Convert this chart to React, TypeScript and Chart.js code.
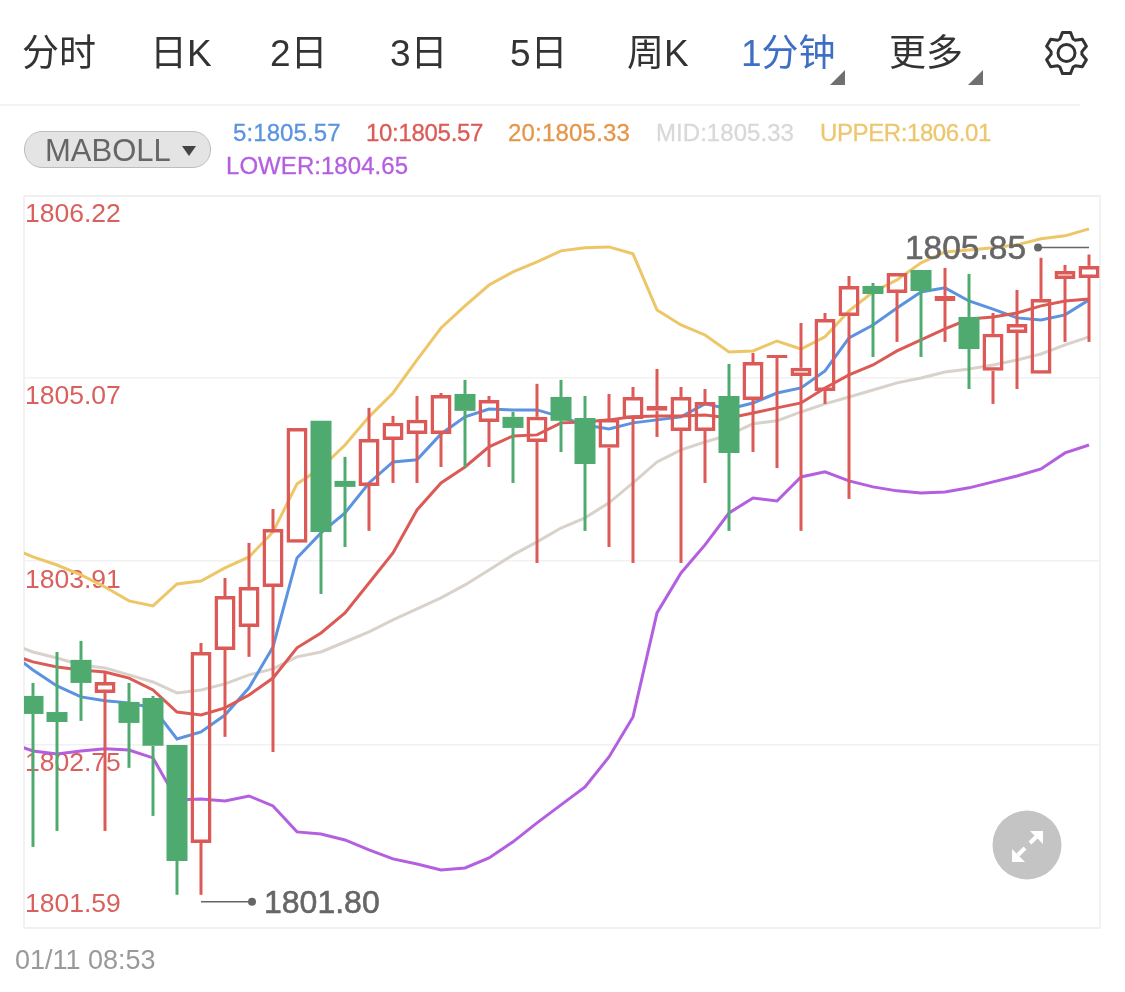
import React, { useEffect, useRef } from 'react';
import Chart from 'chart.js/auto';

const tabs = ['分时', '日K', '2日', '3日', '5日', '周K', '1分钟', '更多'];
const tabLeft = [22, 150, 270, 390, 510, 627, 741, 889];

const legendTexts = ['5:1805.57', '10:1805.57', '20:1805.33', 'MID:1805.33', 'UPPER:1806.01', 'LOWER:1804.65'];
const legendColors = ['#5b93de', '#dc5a56', '#e5964a', '#d8d8d8', '#edc66e', '#b45ee0'];
const legendLeft = [233, 366, 508, 656, 820, 226];
const legendTop = [133, 133, 133, 133, 133, 166];
const legendSpacing = [0.1, -0.3, 0.2, 0.05, -0.4, 0.05];

const tickValues = [1801.59, 1802.75, 1803.91, 1805.07, 1806.22];
const tickLabels = ['1801.59', '1802.75', '1803.91', '1805.07', '1806.22'];

const opens = [
  1803.058, 1802.956, 1803.286, 1803.077, 1803.02, 1803.045, 1802.748, 1802.128, 1803.349, 1803.494,
  1803.747, 1804.026, 1804.798, 1804.418, 1804.386, 1804.677, 1804.715, 1804.715, 1804.968, 1804.791,
  1804.823, 1804.664, 1804.949, 1804.816, 1804.627, 1804.81, 1804.861, 1804.734, 1804.734, 1804.955,
  1804.93, 1805.195, 1805.082, 1804.987, 1805.461, 1805.651, 1805.607, 1805.752, 1805.556, 1805.455,
  1805.114, 1805.354, 1805.095, 1805.695, 1805.702,
];
const closes = [
  1802.944, 1802.893, 1803.14, 1803.146, 1802.887, 1802.742, 1802.014, 1803.336, 1803.69, 1803.747,
  1804.114, 1804.753, 1804.095, 1804.38, 1804.683, 1804.785, 1804.804, 1804.961, 1804.861, 1804.93,
  1804.753, 1804.823, 1804.798, 1804.525, 1804.81, 1804.949, 1804.892, 1804.949, 1804.917, 1804.595,
  1805.17, 1805.214, 1805.133, 1805.442, 1805.651, 1805.6, 1805.733, 1805.619, 1805.588, 1805.252,
  1805.348, 1805.411, 1805.569, 1805.746, 1805.778,
];
const highs = [
  1803.14, 1803.336, 1803.406, 1803.209, 1803.14, 1803.058, 1802.748, 1803.393, 1803.804, 1804.026,
  1804.24, 1804.753, 1804.798, 1804.57, 1804.88, 1804.829, 1804.955, 1804.974, 1805.057, 1804.955,
  1804.854, 1805.032, 1805.057, 1804.955, 1804.968, 1805.012, 1805.126, 1805.012, 1804.999, 1805.158,
  1805.227, 1805.214, 1805.417, 1805.48, 1805.714, 1805.67, 1805.733, 1805.752, 1805.765, 1805.727,
  1805.48, 1805.626, 1805.829, 1805.784, 1805.85,
];
const lows = [
  1802.103, 1802.204, 1802.9, 1802.204, 1802.603, 1802.299, 1801.8, 1801.8, 1802.799, 1803.305,
  1802.703, 1804.026, 1803.703, 1804.0, 1804.102, 1804.405, 1804.405, 1804.506, 1804.506, 1804.506,
  1804.405, 1803.899, 1804.601, 1804.102, 1804.0, 1803.899, 1804.696, 1803.899, 1804.405, 1804.102,
  1804.601, 1804.499, 1804.102, 1804.905, 1804.304, 1805.202, 1805.297, 1805.202, 1805.297, 1804.999,
  1804.905, 1804.999, 1805.095, 1805.297, 1805.297,
];

// the lines carry one extra point in front, it sits left of the frame and gets clipped
const ma5 = [
  1803.336, 1803.222, 1803.121, 1803.052, 1803.027, 1803.014, 1802.982, 1802.786, 1802.83, 1802.937,
  1803.109, 1803.368, 1803.931, 1804.089, 1804.215, 1804.405, 1804.538, 1804.551, 1804.715, 1804.823,
  1804.873, 1804.867, 1804.867, 1804.823, 1804.772, 1804.747, 1804.785, 1804.804, 1804.823, 1804.905,
  1804.873, 1804.911, 1804.974, 1805.006, 1805.114, 1805.322, 1805.404, 1805.512, 1805.613, 1805.639,
  1805.556, 1805.505, 1805.449, 1805.436, 1805.468, 1805.563,
];
const ma10 = [
  1803.324, 1803.273, 1803.241, 1803.222, 1803.209, 1803.171, 1803.096, 1802.956, 1802.937, 1802.982,
  1803.064, 1803.171, 1803.362, 1803.456, 1803.583, 1803.772, 1803.962, 1804.234, 1804.405, 1804.506,
  1804.633, 1804.702, 1804.709, 1804.785, 1804.791, 1804.804, 1804.823, 1804.829, 1804.829, 1804.835,
  1804.816, 1804.848, 1804.88, 1804.911, 1805.006, 1805.088, 1805.151, 1805.24, 1805.31, 1805.379,
  1805.442, 1805.455, 1805.48, 1805.525, 1805.556, 1805.569,
];
const mid = [
  1803.393, 1803.336, 1803.298, 1803.254, 1803.235, 1803.191, 1803.146, 1803.077, 1803.096, 1803.134,
  1803.191, 1803.229, 1803.305, 1803.336, 1803.399, 1803.463, 1803.539, 1803.608, 1803.678, 1803.76,
  1803.855, 1803.95, 1804.032, 1804.12, 1804.184, 1804.279, 1804.405, 1804.538, 1804.614, 1804.664,
  1804.709, 1804.779, 1804.798, 1804.854, 1804.905, 1804.949, 1804.993, 1805.038, 1805.069, 1805.107,
  1805.126, 1805.151, 1805.183, 1805.221, 1805.278, 1805.329,
];
const upper = [
  1804.0, 1803.937, 1803.886, 1803.823, 1803.747, 1803.659, 1803.627, 1803.766, 1803.785, 1803.868,
  1803.937, 1804.095, 1804.399, 1804.499, 1804.645, 1804.823, 1804.974, 1805.183, 1805.385, 1805.525,
  1805.657, 1805.74, 1805.803, 1805.873, 1805.892, 1805.898, 1805.854, 1805.499, 1805.404, 1805.341,
  1805.234, 1805.24, 1805.303, 1805.252, 1805.329, 1805.493, 1805.613, 1805.689, 1805.797, 1805.866,
  1805.879, 1805.892, 1805.911, 1805.949, 1805.968, 1806.012,
];
const lower = [
  1802.761, 1802.71, 1802.691, 1802.71, 1802.723, 1802.716, 1802.666, 1802.4, 1802.406, 1802.394,
  1802.425, 1802.362, 1802.198, 1802.185, 1802.147, 1802.084, 1802.027, 1801.995, 1801.957, 1801.97,
  1802.033, 1802.135, 1802.255, 1802.369, 1802.482, 1802.672, 1802.925, 1803.583, 1803.836, 1804.013,
  1804.215, 1804.31, 1804.291, 1804.443, 1804.475, 1804.418, 1804.38, 1804.355, 1804.342, 1804.348,
  1804.374, 1804.412, 1804.449, 1804.494, 1804.595, 1804.645,
];

const RED = '#db5a57';
const GREEN = '#4faa6f';
const FONT = '"Liberation Sans", "Noto Sans CJK SC", sans-serif';

const isUp = (i: number) => closes[i] >= opens[i];
const candleColor = opens.map((_, i) => (isUp(i) ? RED : GREEN));

const lineSet = (values: number[], color: string, order: number) => ({
  type: 'line' as const,
  data: values.map((y, i) => ({ x: i - 1, y })),
  borderColor: color,
  borderWidth: 3,
  pointRadius: 0,
  tension: 0,
  order,
});

const wickSet = (from: number[], to: number[]) => ({
  type: 'bar' as const,
  data: from.map((v, i) => ({ x: i, y: [v, to[i]] })),
  backgroundColor: candleColor,
  borderWidth: 0,
  maxBarThickness: 3,
  grouped: false,
  barPercentage: 1,
  categoryPercentage: 1,
  inflateAmount: 0,
  order: 0,
});

// six lobed gear outline for the settings icon
const gearPath = () => {
  const pts: string[] = [];
  for (let k = 0; k < 6; k++) {
    const a = -90 + k * 60;
    [[-25, 15.5], [-11, 21], [11, 21], [25, 15.5]].forEach(([da, r]) => {
      const t = ((a + da) * Math.PI) / 180;
      pts.push(`${(1066.5 + r * Math.cos(t)).toFixed(1)},${(53 + r * Math.sin(t)).toFixed(1)}`);
    });
  }
  return pts.join(' ');
};

// axis labels sit under the grid line, only the lowest one sits above the frame edge
const frameAndLabels = {
  id: 'frameAndLabels',
  beforeDatasetsDraw(chart: any) {
    const { ctx, chartArea, scales } = chart;
    ctx.save();
    ctx.strokeStyle = '#eeeeee';
    ctx.lineWidth = 1.5;
    ctx.strokeRect(chartArea.left, chartArea.top, chartArea.width, chartArea.height);
    ctx.fillStyle = '#d9605c';
    ctx.font = `26.5px ${FONT}`;
    ctx.textBaseline = 'middle';
    ctx.textAlign = 'left';
    tickValues.forEach((v, i) => {
      const y = scales.y.getPixelForValue(v);
      ctx.fillText(tickLabels[i], chartArea.left + 1, i === 0 ? y - 23 : y + 19);
    });
    ctx.restore();
  },
};

// the max / min markers
const extremes = {
  id: 'extremes',
  afterDatasetsDraw(chart: any) {
    const { ctx, scales } = chart;
    const hi = highs.indexOf(Math.max(...highs));
    const lo = lows.lastIndexOf(Math.min(...lows));
    const draw = (index: number, value: number, dy: number, dir: number, size: number) => {
      const x = scales.x.getPixelForValue(index);
      const y = scales.y.getPixelForValue(value) + dy;
      ctx.strokeStyle = '#666666';
      ctx.lineWidth = 1.5;
      ctx.beginPath();
      ctx.moveTo(x, y);
      ctx.lineTo(x + dir * 51, y);
      ctx.stroke();
      ctx.fillStyle = '#666666';
      ctx.beginPath();
      ctx.arc(x + dir * 51, y, 4, 0, Math.PI * 2);
      ctx.fill();
      ctx.font = `${size}px ${FONT}`;
      ctx.textBaseline = 'middle';
      ctx.textAlign = dir > 0 ? 'left' : 'right';
      ctx.lineWidth = 0.6;
      ctx.fillText(value.toFixed(2), x + dir * 63, y + 2);
      ctx.strokeText(value.toFixed(2), x + dir * 63, y + 2);
    };
    ctx.save();
    draw(hi, highs[hi], -7, -1, 33.5);
    draw(lo, lows[lo], 7, 1, 32);
    ctx.restore();
  },
};

const abs = (left: number, top: number): React.CSSProperties => ({
  position: 'absolute',
  left,
  top,
  whiteSpace: 'nowrap',
  fontFamily: FONT,
});

export default function App() {
  const canvasRef = useRef<HTMLCanvasElement>(null);

  useEffect(() => {
    if (!canvasRef.current) return;
    const chart = new Chart(canvasRef.current, {
      type: 'bar',
      data: {
        datasets: [
          {
            data: opens.map((o, i) => ({ x: i, y: [o, closes[i]] })),
            backgroundColor: opens.map((_, i) => (isUp(i) ? 'rgba(0,0,0,0)' : GREEN)),
            borderColor: candleColor,
            borderWidth: opens.map((_, i) => (isUp(i) ? 3.5 : 0)),
            borderSkipped: false,
            maxBarThickness: 21,
            grouped: false,
            barPercentage: 1,
            categoryPercentage: 1,
            inflateAmount: 0,
            order: 0,
          },
          wickSet(highs, opens.map((o, i) => Math.max(o, closes[i]))),
          wickSet(lows, opens.map((o, i) => Math.min(o, closes[i]))),
          lineSet(ma10, '#dc5a56', 1),
          lineSet(ma5, '#5b93e0', 2),
          lineSet(lower, '#b45ee0', 3),
          lineSet(upper, '#edc668', 4),
          lineSet(mid, '#d8d2ca', 5),
        ] as any,
      },
      options: {
        responsive: false,
        animation: false,
        events: [],
        layout: { padding: { left: 24, right: 25, top: 196, bottom: 64 } },
        plugins: { legend: { display: false }, tooltip: { enabled: false } },
        scales: {
          x: {
            type: 'linear',
            display: false,
            offset: false,
            min: -0.375,
            max: 44.458,
            grid: { display: false },
          },
          y: {
            min: 1801.59,
            max: 1806.22,
            ticks: { display: false },
            border: { display: false },
            grid: { color: '#f1f1f1', lineWidth: 1.5, drawTicks: false },
            afterBuildTicks: (axis: any) => {
              axis.ticks = tickValues.map((value) => ({ value }));
            },
          },
        },
      },
      plugins: [frameAndLabels, extremes],
    });
    return () => chart.destroy();
  }, []);

  return (
    <div style={{ position: 'absolute', left: 0, top: 0, width: 1125, height: 992, background: '#fff', overflow: 'hidden' }}>
      <canvas ref={canvasRef} width={1125} height={992} style={{ position: 'absolute', left: 0, top: 0 }} />

      {tabs.map((t, i) => (
        <div key={t} style={{ ...abs(tabLeft[i], 32), fontSize: 37, lineHeight: '44px', color: t === '1分钟' ? '#3f6fc4' : '#333333' }}>
          {t}
        </div>
      ))}
      <svg width={1125} height={105} style={{ position: 'absolute', left: 0, top: 0 }}>
        <polygon points="845,70 845,85 830,85" fill="#707070" />
        <polygon points="983,70 983,85 968,85" fill="#707070" />
        <polygon points={gearPath()} fill="none" stroke="#333333" strokeWidth="3" strokeLinejoin="round" />
        <circle cx="1066.5" cy="53" r="8.5" fill="none" stroke="#333333" strokeWidth="3" />
      </svg>
      <div style={{ position: 'absolute', left: 0, top: 104, width: 1080, height: 2, background: '#f3f3f3' }} />

      <div style={{ ...abs(24, 131), width: 187, height: 37, boxSizing: 'border-box', background: '#e4e4e4', border: '1px solid #bdbdbd', borderRadius: 18 }} />
      <div style={{ ...abs(45, 131), fontSize: 31, lineHeight: '39px', color: '#666666' }}>MABOLL</div>
      <svg width={14} height={10} style={{ position: 'absolute', left: 182, top: 146 }}>
        <polygon points="0,0 14,0 7,10" fill="#444444" />
      </svg>

      {legendTexts.map((t, i) => (
        <div
          key={t}
          style={{
            ...abs(legendLeft[i], legendTop[i] - 14),
            fontSize: 24,
            lineHeight: '28px',
            color: legendColors[i],
            letterSpacing: legendSpacing[i],
            WebkitTextStroke: '0.3px',
          }}
        >
          {t}
        </div>
      ))}

      <div style={{ ...abs(15, 945), fontSize: 27, lineHeight: '30px', color: '#999999' }}>01/11 08:53</div>

      <svg width={70} height={70} style={{ position: 'absolute', left: 992, top: 810 }}>
        <circle cx="35" cy="35" r="34.5" fill="#c4c4c4" />
        <g stroke="#ffffff" strokeWidth="4" fill="none">
          <line x1="26" y1="45" x2="33" y2="38" />
          <line x1="45" y1="26" x2="38" y2="33" />
        </g>
        <polygon points="20,52 20,39 33,52" fill="#ffffff" />
        <polygon points="51,21 38,21 51,34" fill="#ffffff" />
      </svg>
    </div>
  );
}
